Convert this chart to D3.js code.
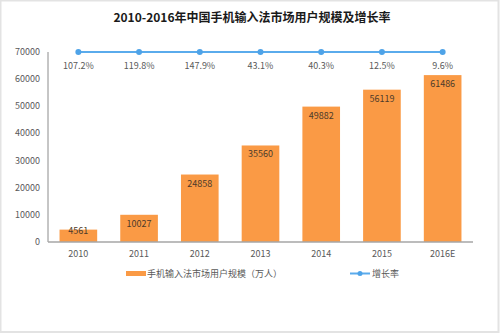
<!DOCTYPE html>
<html><head><meta charset="utf-8">
<script src="https://cdn.jsdelivr.net/npm/d3@7"></script>
<style>body{margin:0;background:#fff}text{font-family:"Noto Sans CJK SC","Noto Sans",sans-serif}</style>
</head><body>
<svg id="c" width="500" height="334"></svg>
<script>
const categories = ["2010","2011","2012","2013","2014","2015","2016E"];
const users = [4561,10027,24858,35560,49882,56119,61486];
const growthLabels = ["107.2%","119.8%","147.9%","43.1%","40.3%","12.5%","9.6%"];
const yTicks = [0,10000,20000,30000,40000,50000,60000,70000];
const title = "2010-2016年中国手机输入法市场用户规模及增长率";
const legendBar = "手机输入法市场用户规模（万人）";
const legendLine = "增长率";

(function(){
const svg = d3.select("#c");
svg.append("rect").attr("x",0.5).attr("y",0.5).attr("width",498).attr("height",331.5)
  .attr("fill","#fff").attr("stroke","#e3e3e3").attr("stroke-width",2);

const pL=48,pR=473,pT=52,pB=242;
const x = d3.scaleBand().domain(categories).range([pL,pR]).paddingInner(0.38).paddingOuter(0.19);
const y = d3.scaleLinear().domain([0,70000]).range([pB,pT]);

svg.append("text").attr("x",252).attr("y",22).attr("text-anchor","middle")
  .attr("font-size",12).attr("font-weight","bold").attr("fill","#1a1a1a").text(title);

svg.append("g").selectAll("text").data(yTicks).join("text")
  .attr("x",40).attr("y",d=>y(d)+3).attr("text-anchor","end")
  .attr("font-size",9).attr("fill","#595959").text(d=>d);

svg.append("g").selectAll("rect").data(users).join("rect")
  .attr("x",(d,i)=>x(categories[i])).attr("width",x.bandwidth())
  .attr("y",d=>y(d)).attr("height",d=>pB-y(d)).attr("fill","#fa9a45");
svg.append("g").selectAll("text").data(users).join("text")
  .attr("x",(d,i)=>x(categories[i])+x.bandwidth()/2).attr("y",d=>Math.min(y(d)+12,pB-8))
  .attr("text-anchor","middle").attr("font-size",9).attr("fill","#4d3a2a").text(d=>d);

svg.append("line").attr("x1",pL).attr("x2",pL).attr("y1",pT).attr("y2",pB).attr("stroke","#8c8c8c").attr("stroke-width",1);
svg.append("line").attr("x1",pL).attr("x2",pR).attr("y1",pB).attr("y2",pB).attr("stroke","#a6a6a6").attr("stroke-width",1.5);

svg.append("g").selectAll("text").data(categories).join("text")
  .attr("x",d=>x(d)+x.bandwidth()/2).attr("y",257).attr("text-anchor","middle")
  .attr("font-size",9).attr("fill","#595959").text(d=>d);

const lineY = y(70000);
const cx = d=>x(d)+x.bandwidth()/2;
svg.append("path").datum(categories).attr("fill","none").attr("stroke","#5aabec").attr("stroke-width",2)
  .attr("d",d3.line().x(cx).y(()=>lineY));
svg.append("g").selectAll("circle").data(categories).join("circle")
  .attr("cx",cx).attr("cy",lineY).attr("r",3).attr("fill","#4ea3e8");
svg.append("g").selectAll("text").data(growthLabels).join("text")
  .attr("x",(d,i)=>cx(categories[i])).attr("y",lineY+17).attr("text-anchor","middle")
  .attr("font-size",9).attr("fill","#595959").text(d=>d);

svg.append("rect").attr("x",126).attr("y",271).attr("width",20).attr("height",5).attr("fill","#fa9a45");
svg.append("text").attr("x",147).attr("y",277).attr("font-size",9).attr("fill","#595959").text(legendBar);
svg.append("line").attr("x1",350).attr("x2",370).attr("y1",273.5).attr("y2",273.5).attr("stroke","#5aabec").attr("stroke-width",2);
svg.append("circle").attr("cx",360).attr("cy",273.5).attr("r",2.5).attr("fill","#4ea3e8");
svg.append("text").attr("x",372).attr("y",277).attr("font-size",9).attr("fill","#595959").text(legendLine);
})();
</script>
</body></html>
